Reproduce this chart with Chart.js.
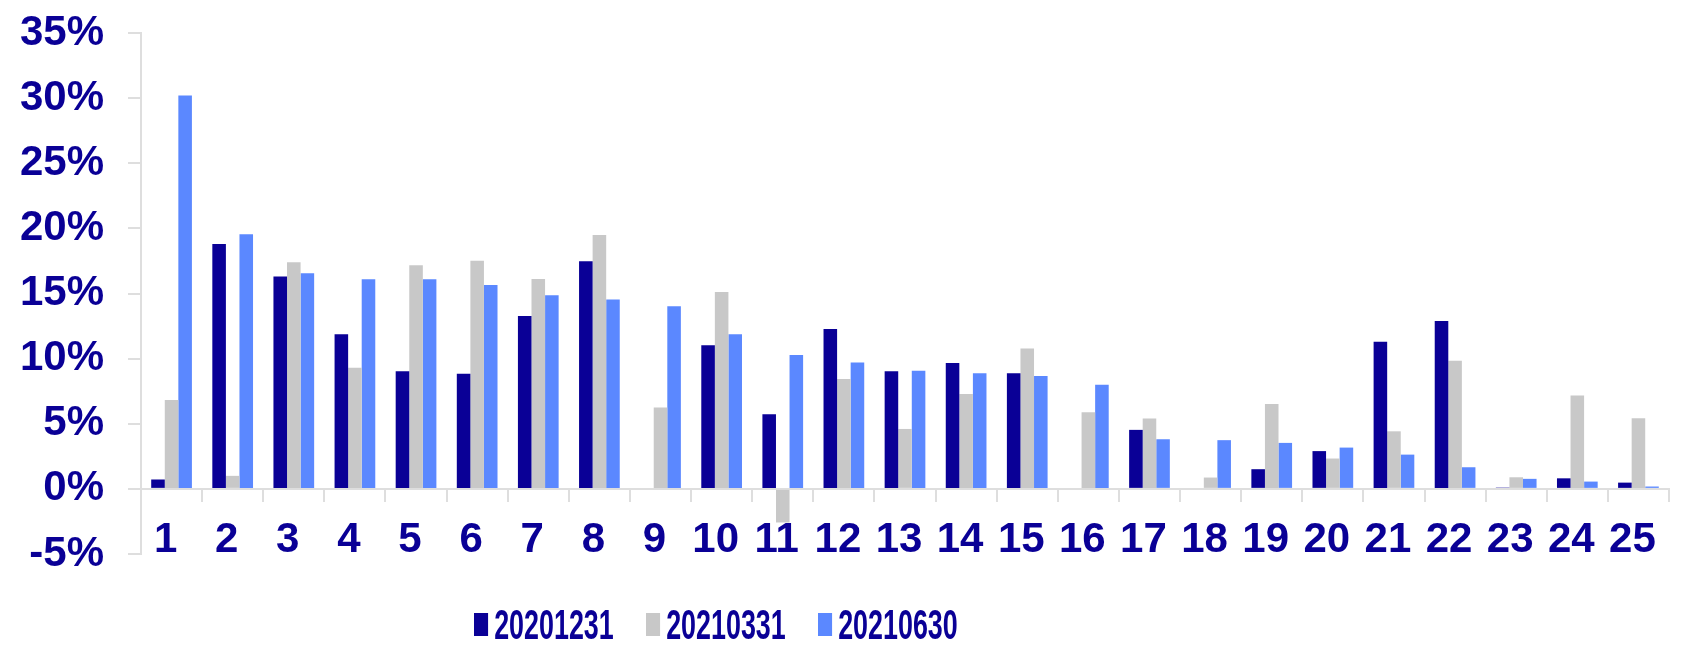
<!DOCTYPE html>
<html>
<head>
<meta charset="utf-8">
<script src="https://cdn.jsdelivr.net/npm/chart.js@4/dist/chart.umd.min.js"></script>
<style>
  html, body { margin: 0; padding: 0; background: #ffffff; }
  #c { display: block; }
</style>
</head>
<body>
<canvas id="c" width="1689" height="651"></canvas>
<script>
const categories = ["1","2","3","4","5","6","7","8","9","10","11","12","13","14","15","16","17","18","19","20","21","22","23","24","25"];
const seriesNames = ["20201231", "20210331", "20210630"];
const s20201231 = [0.72, 18.8, 16.3, 11.87, 9.03, 8.83, 13.28, 17.47, null, 11.03, 5.73, 12.28, 9.03, 9.67, 8.88, null, 4.53, null, 1.51, 2.9, 11.3, 12.89, 0.1, 0.81, 0.48];
const s20210331 = [6.83, 1.0, 17.4, 9.29, 17.17, 17.52, 16.12, 19.49, 6.24, 15.12, -2.58, 8.44, 4.6, 7.29, 10.77, 5.88, 5.4, 0.87, 6.52, 2.33, 4.42, 9.83, 0.89, 7.16, 5.43];
const s20210630 = [30.2, 19.55, 16.55, 16.1, 16.1, 15.66, 14.87, 14.53, 14.02, 11.87, 10.28, 9.7, 9.06, 8.88, 8.67, 8.0, 3.81, 3.74, 3.53, 3.17, 2.63, 1.66, 0.77, 0.56, 0.18];
const yTicks = [-5, 0, 5, 10, 15, 20, 25, 30, 35];

const colors = ["#0A0096", "#C8C8C8", "#5B88FF"];
const textColor = "#0A0096";
const axisColor = "#DEDEDE";
const fontFamily = "'Liberation Sans', Arial, Helvetica, sans-serif";

const seriesData = [s20201231, s20210331, s20210630];
const datasets = seriesNames.map((name, i) => ({
  label: name,
  data: seriesData[i],
  backgroundColor: colors[i],
  borderWidth: 0,
  categoryPercentage: 0.666,
  barPercentage: 1.0
}));

// Condensed legend drawn below the plot (the reference's legend is horizontally compressed)
const condensedLegend = {
  id: "condensedLegend",
  afterDraw(chart) {
    const ctx = chart.ctx;
    const sx = 0.64;
    const originX = 474;
    const boxTop = 613, boxH = 23, boxW = 22;
    const baseline = 639;
    const itemStarts = [0, 268.75, 537.5];
    const textGap = 31.5;
    ctx.save();
    ctx.translate(originX, 0);
    ctx.scale(sx, 1);
    ctx.font = "bold 42px " + fontFamily;
    ctx.textBaseline = "alphabetic";
    ctx.textAlign = "left";
    chart.data.datasets.forEach((ds, i) => {
      const x0 = itemStarts[i];
      ctx.fillStyle = ds.backgroundColor;
      ctx.fillRect(x0, boxTop, boxW, boxH);
      ctx.fillStyle = textColor;
      ctx.fillText(ds.label, x0 + textGap, baseline);
    });
    ctx.restore();
  }
};

new Chart(document.getElementById("c"), {
  type: "bar",
  data: { labels: categories, datasets: datasets },
  plugins: [condensedLegend],
  options: {
    responsive: false,
    animation: false,
    devicePixelRatio: 1,
    layout: { padding: { left: 0, right: 20, top: 33, bottom: 97 } },
    plugins: {
      legend: { display: false },
      tooltip: { enabled: false }
    },
    scales: {
      x: {
        position: { y: 0 },
        offset: true,
        grid: { display: true, drawOnChartArea: false, drawTicks: true, tickLength: 12, color: axisColor, lineWidth: 2, offset: true },
        border: { display: true, color: axisColor, width: 2 },
        ticks: { color: textColor, font: { family: fontFamily, size: 42, weight: "bold" }, padding: 14, labelOffset: -6, maxRotation: 0, autoSkip: false }
      },
      y: {
        min: -5, max: 35,
        afterBuildTicks: (scale) => { scale.ticks = yTicks.map(v => ({ value: v })); },
        afterFit: (scale) => { scale.width = 141; scale.paddingTop = 0; scale.paddingBottom = 0; },
        grid: { display: true, drawOnChartArea: false, drawTicks: true, tickLength: 13, color: axisColor, lineWidth: 2 },
        border: { display: true, color: axisColor, width: 2 },
        ticks: { color: textColor, font: { family: fontFamily, size: 42, weight: "bold" }, padding: 24, callback: (v) => v + "%" }
      }
    }
  }
});
</script>
</body>
</html>
